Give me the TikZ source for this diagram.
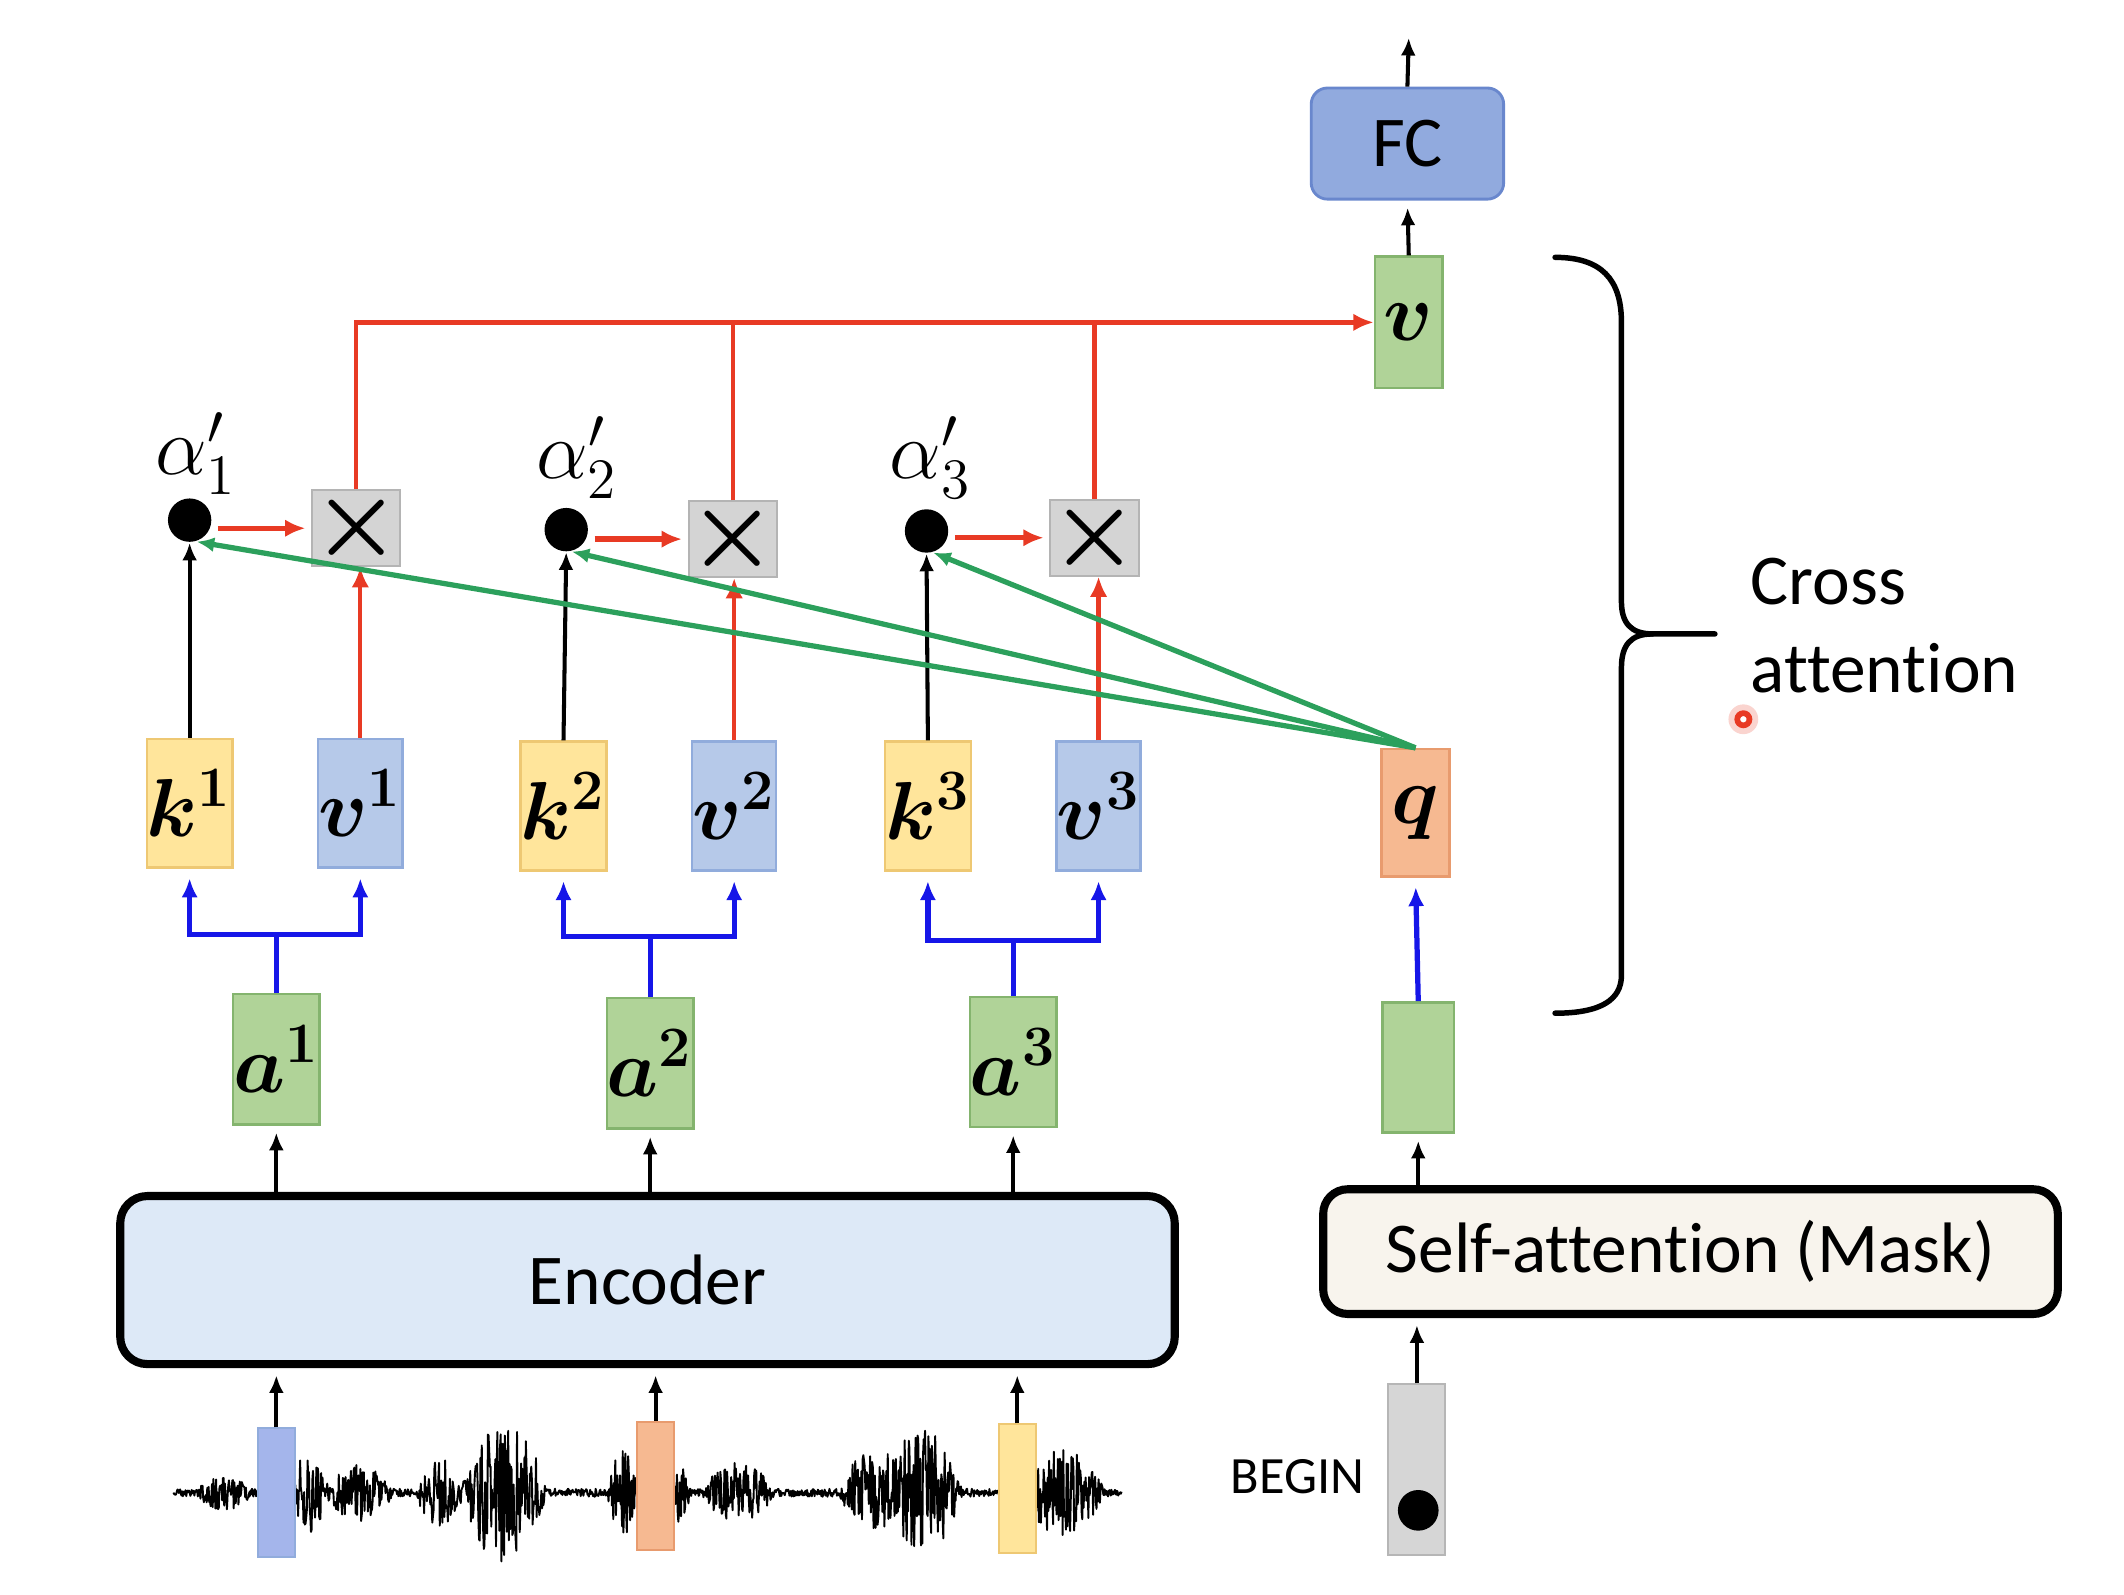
\documentclass[tikz,border=0pt]{standalone}
\usepackage{amsmath}
\usepackage{bm}
\usepackage{fontspec}
\setmainfont{Carlito}[Ligatures=NoCommon]
\usetikzlibrary{arrows.meta,decorations.pathreplacing}

\definecolor{kfill}{RGB}{255,229,155}
\definecolor{kdraw}{RGB}{238,200,115}
\definecolor{vfill}{RGB}{182,201,233}
\definecolor{vdraw}{RGB}{145,172,220}
\definecolor{gfill}{RGB}{176,211,152}
\definecolor{gdraw}{RGB}{132,180,110}
\definecolor{qfill}{RGB}{246,185,145}
\definecolor{qdraw}{RGB}{232,155,110}
\definecolor{xfill}{RGB}{212,212,212}
\definecolor{xdraw}{RGB}{180,180,180}
\definecolor{fcfill}{RGB}{145,170,222}
\definecolor{fcdraw}{RGB}{105,135,205}
\definecolor{encfill}{RGB}{221,233,247}
\definecolor{safill}{RGB}{248,244,237}
\definecolor{bgfill}{RGB}{214,214,214}
\definecolor{linered}{RGB}{232,58,36}
\definecolor{linegreen}{RGB}{44,160,92}
\definecolor{lineblue}{RGB}{22,22,232}

\tikzset{
  vecbox/.style={rectangle, inner sep=0pt, minimum width=0.51cm, minimum height=0.95cm,
    line width=0.5pt, font=\fontsize{17}{20}\selectfont},
  keybox/.style={vecbox, fill=kfill, draw=kdraw},
  valbox/.style={vecbox, fill=vfill, draw=vdraw},
  embbox/.style={vecbox, fill=gfill, draw=gdraw, minimum width=0.53cm, minimum height=0.96cm},
  qrybox/.style={vecbox, fill=qfill, draw=qdraw, minimum width=0.5cm, minimum height=0.94cm},
  mulbox/.style={rectangle, fill=xfill, draw=xdraw, minimum size=0.53cm, inner sep=0pt,
    font=\fontsize{21}{21}\selectfont},
  scoredot/.style={circle, fill=black, minimum size=0.32cm, inner sep=0pt},
  scorelbl/.style={font=\fontsize{17}{20}\selectfont},
  layer/.style={rectangle, rounded corners=0.2cm, draw=black, line width=1.7pt,
    font=\fontsize{15}{18}\selectfont},
  sndbar/.style={rectangle, minimum width=0.27cm, minimum height=0.95cm, inner sep=0pt, line width=0.4pt},
  arr/.style={->, line width=0.85pt},
  redarr/.style={line width=0.9pt, draw=linered, >={Latex[length=1.5mm,width=1.3mm]}},
  greenarr/.style={->, line width=1.1pt, draw=linegreen},
  bluearr/.style={line width=1.1pt, draw=lineblue, >={Latex[length=1.4mm,width=1.2mm]}},
  wave/.style={line width=0.4pt, line join=round},
  bracel/.style={line width=1.15pt, line cap=round},
  declare function={bump(\x,\c,\w)=max(0,1-((\x-\c)/\w)*((\x-\c)/\w));
    env(\x)=3+10*bump(\x,165,20)+28*bump(\x,228,14)+18*bump(\x,265,25)
      +22*bump(\x,325,18)+50*bump(\x,372,32)+28*bump(\x,460,12)
      +22*bump(\x,503,6)+20*bump(\x,545,26)+26*bump(\x,640,20)
      +46*bump(\x,680,30)+30*bump(\x,785,30);}
}

\begin{document}
\begin{tikzpicture}[x=0.01cm,y=0.01cm,>={Latex[length=1.3mm,width=1.1mm]}]
  \useasboundingbox (0,0) rectangle (1568,-1177);

  % encoder side
  \node[layer, fill=encfill, minimum width=7.78cm, minimum height=1.24cm] (enc) at (478,-945) {Encoder};
  \node[embbox] (a1) at (204,-782) {$\bm{a^1}$};
  \node[embbox] (a2) at (480,-785) {$\bm{a^2}$};
  \node[embbox] (a3) at (748,-784) {$\bm{a^3}$};
  \node[keybox] (k1) at (140,-593) {$\bm{k^1}$};
  \node[valbox] (v1) at (266,-593) {$\bm{v^1}$};
  \node[keybox] (k2) at (416,-595) {$\bm{k^2}$};
  \node[valbox] (v2) at (542,-595) {$\bm{v^2}$};
  \node[keybox] (k3) at (685,-595) {$\bm{k^3}$};
  \node[valbox] (v3) at (811,-595) {$\bm{v^3}$};

  % attention scores and products
  \node[scoredot] (d1) at (140,-384) {};
  \node[scoredot] (d2) at (418,-391) {};
  \node[scoredot] (d3) at (684,-392) {};
  \node[scorelbl] (l1) at (145,-335) {$\alpha'_1$};
  \node[scorelbl] (l2) at (426,-338) {$\alpha'_2$};
  \node[scorelbl] (l3) at (687,-338) {$\alpha'_3$};
  \node[mulbox] (x1) at (263,-390) {$\bm{\times}$};
  \node[mulbox] (x2) at (541,-398) {$\bm{\times}$};
  \node[mulbox] (x3) at (808,-397) {$\bm{\times}$};

  % decoder side
  \node[layer, fill=safill, minimum width=5.42cm, minimum height=0.92cm, rounded corners=0.18cm] (sa) at (1248,-924) {Self-attention (Mask)};
  \node[rectangle, fill=bgfill, draw=bgfill!85!black, line width=0.4pt, minimum width=0.42cm, minimum height=1.26cm, inner sep=0pt] (bg) at (1046,-1085) {};
  \node[circle, fill=black, minimum size=0.3cm, inner sep=0pt] (bgdot) at (1047,-1115) {};
  \node[font=\fontsize{11}{13}\selectfont] (bglbl) at (958,-1090) {BEGIN};
  \node[embbox] (h) at (1047,-788) {};
  \node[qrybox] (q) at (1045,-600) {$\bm{q}$};
  \node[embbox, minimum width=0.5cm, minimum height=0.97cm] (vout) at (1040,-238) {$\bm{v}$};
  \node[rectangle, rounded corners=0.12cm, fill=fcfill, draw=fcdraw, line width=0.6pt, minimum width=1.42cm, minimum height=0.82cm, font=\fontsize{15}{18}\selectfont] (fc) at (1039,-106) {FC};
  \coordinate (out) at (1040,-28);

  % sound wave
  \pgfmathsetseed{11}
  \draw[wave] plot[domain=128:828, samples=1400] (\x, {-1102+env(\x)*rand});
  \node[sndbar, fill=vfill!90!blue, draw=vdraw] (b1) at (204,-1102) {};
  \node[sndbar, fill=qfill, draw=qdraw] (b2) at (484,-1097) {};
  \node[sndbar, fill=kfill, draw=kdraw] (b3) at (751,-1099) {};

  % black arrows
  \draw[arr, shorten >=1.5pt] (b1.north) -- (b1 |- enc.south);
  \draw[arr, shorten >=1.5pt] (b2.north) -- (b2 |- enc.south);
  \draw[arr, shorten >=1.5pt] (b3.north) -- (b3 |- enc.south);
  \draw[arr, shorten >=1.5pt] (a1 |- enc.north) -- (a1.south);
  \draw[arr, shorten >=1.5pt] (a2 |- enc.north) -- (a2.south);
  \draw[arr, shorten >=1.5pt] (a3 |- enc.north) -- (a3.south);
  \draw[arr] (k1.north) -- (d1.south);
  \draw[arr] (k2.north) -- (d2.south);
  \draw[arr] (k3.north) -- (d3.south);
  \draw[arr, shorten >=1.5pt] (bg.north) -- (bg |- sa.south);
  \draw[arr, shorten >=1.5pt] (h |- sa.north) -- (h.south);
  \draw[arr, shorten >=1.5pt] (vout.north) -- (fc.south);
  \draw[arr] (fc.north) -- (out);

  % blue forks
  \draw[bluearr] (a1.north) -- ++(0,43) coordinate (f1);
  \draw[bluearr,->,shorten >=2pt] (f1) -| (k1.south);
  \draw[bluearr,->,shorten >=2pt] (f1) -| (v1.south);
  \draw[bluearr] (a2.north) -- ++(0,45) coordinate (f2);
  \draw[bluearr,->,shorten >=2pt] (f2) -| (k2.south);
  \draw[bluearr,->,shorten >=2pt] (f2) -| (v2.south);
  \draw[bluearr] (a3.north) -- ++(0,41) coordinate (f3);
  \draw[bluearr,->,shorten >=2pt] (f3) -| (k3.south);
  \draw[bluearr,->,shorten >=2pt] (f3) -| (v3.south);
  \draw[bluearr,->,shorten >=2pt] (h.north) -- (q.south);

  % red weighted sum
  \draw[redarr,->,line width=1.15pt,shorten <=1.2pt,shorten >=1.2pt] (d1.east |- x1) -- (x1.west);
  \draw[redarr,->,line width=1.15pt,shorten <=1.2pt,shorten >=1.2pt] (d2.east |- x2) -- (x2.west);
  \draw[redarr,->,line width=1.15pt,shorten <=1.2pt,shorten >=1.2pt] (d3.east |- x3) -- (x3.west);
  \draw[redarr,->] (v1.north) -- (v1.north |- x1.south);
  \draw[redarr,->] (v2.north) -- (v2.north |- x2.south);
  \draw[redarr,->] (v3.north) -- (v3.north |- x3.south);
  \draw[redarr,->] (x1.north) |- (vout.west);
  \draw[redarr] (x2.north) -- (x2.north |- vout.west);
  \draw[redarr] (x3.north) -- (x3.north |- vout.west);

  % green query lines
  \draw[greenarr] (q.north) -- (d1.-72);
  \draw[greenarr] (q.north) -- (d2.-76);
  \draw[greenarr] (q.north) -- (d3.-73);

  % brace
  \draw[bracel] (1148,-190) .. controls (1182,-190) and (1197,-206) .. (1197,-238)
    -- (1197,-444) .. controls (1197,-460) and (1204,-468) .. (1220,-468) -- (1266,-468);
  \draw[bracel] (1220,-468) .. controls (1204,-468) and (1197,-476) .. (1197,-493)
    -- (1197,-720) .. controls (1197,-738) and (1182,-748) .. (1148,-748);
  \node[anchor=west, align=left, font=\fontsize{15}{18.4}\selectfont] (cross) at (1280,-462) {Cross\\attention};

  % pointer
  \fill[linered, opacity=0.22] (1287,-531) circle (11);
  \draw[linered, line width=1.2pt, fill=white] (1287,-531) circle (4.5);
\end{tikzpicture}
\end{document}
